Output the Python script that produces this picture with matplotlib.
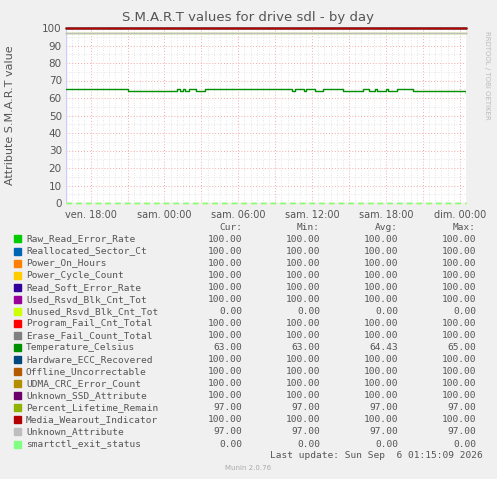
import matplotlib
matplotlib.use("Agg")
import matplotlib.pyplot as plt
import numpy as np

names = ["Raw_Read_Error_Rate","Reallocated_Sector_Ct","Power_On_Hours","Power_Cycle_Count",
         "Read_Soft_Error_Rate","Used_Rsvd_Blk_Cnt_Tot","Unused_Rsvd_Blk_Cnt_Tot","Program_Fail_Cnt_Total",
         "Erase_Fail_Count_Total","Temperature_Celsius","Hardware_ECC_Recovered","Offline_Uncorrectable",
         "UDMA_CRC_Error_Count","Unknown_SSD_Attribute","Percent_Lifetime_Remain","Media_Wearout_Indicator",
         "Unknown_Attribute","smartctl_exit_status"]
colors = ["#00CC00","#0066B3","#FF8000","#FFCC00","#330099","#990099","#CCFF00","#FF0000",
          "#808080","#008F00","#00487D","#B35A00","#B38F00","#6B006B","#8FB300","#B30000",
          "#BEBEBE","#80FF80"]
cur = [100,100,100,100,100,100,0,100,100,63,100,100,100,100,97,100,97,0]
mins = [100,100,100,100,100,100,0,100,100,63,100,100,100,100,97,100,97,0]
avgs = [100,100,100,100,100,100,0,100,100,64.43,100,100,100,100,97,100,97,0]
maxs = [100,100,100,100,100,100,0,100,100,65,100,100,100,100,97,100,97,0]

span_hours = [0, 32.5]
temp_t = [0,5.0,9.0,9.3,9.5,9.7,10.0,10.6,10.9,11.3,18.4,18.6,19.3,19.5,20.2,20.9,22.5,24.1,24.6,25.1,25.3,26.0,26.2,26.9,28.2,32.5]
temp_v = [65,64,65,64,65,64,65,64,64,65,64,65,64,65,64,65,64,65,64,65,64,65,64,65,64,63]
tick_pos = [2, 8, 14, 20, 26, 32]
tick_labels = ["ven. 18:00","sam. 00:00","sam. 06:00","sam. 12:00","sam. 18:00","dim. 00:00"]

W, H = 497, 479
fig = plt.figure(figsize=(W/100, H/100), dpi=100, facecolor="#F0F0F0")
ax = fig.add_axes([66/W, 1-203/H, 400/W, 175/H])
ax.set_facecolor("white")
ax.set_xlim(0, 32.5)
ax.set_ylim(0, 100)
ax.axvline(0, color="#CCCCFF", lw=1, zorder=2)
ax.axhline(0, color="#CCCCFF", lw=1, zorder=2)

for i, n in enumerate(names):
    if n == "Temperature_Celsius":
        ax.step(temp_t, temp_v, where="post", color=colors[i], lw=1, zorder=3)
    elif cur[i] == 0:
        ax.plot(span_hours, [cur[i]]*2, color=colors[i], lw=1, ls=(0,(4,3)), zorder=3+i*0.01, clip_on=False)
    else:
        ax.plot(span_hours, [cur[i]]*2, color=colors[i], lw=1, zorder=3+i*0.01, clip_on=False)

ax.set_xticks([2, 5, 8, 11, 14, 17, 20, 23, 26, 29, 32])
ax.set_xticklabels([])
ax.set_xticks(np.arange(0.5, 32.5, 0.5), minor=True)
for p, l in zip(tick_pos, tick_labels):
    ax.text(p, -4, l, ha="center", va="top", fontsize=7, color="#555555")
ax.set_yticks(np.arange(0, 101, 10))
ax.set_yticks(np.arange(0, 101, 5), minor=True)
ax.grid(which="minor", color="#DDDDDD", ls=(0,(1,2)), lw=0.6)
ax.grid(which="major", color="#F2AAAA", ls=(0,(1,2)), lw=0.7)
ax.tick_params(which="both", length=0, labelsize=7.5, colors="#555555", pad=3)
for s in ax.spines.values():
    s.set_visible(False)

fig.text(0.5, 1-18/H, "S.M.A.R.T values for drive sdl - by day", ha="center", va="center", fontsize=9.5, color="#555555")
fig.text(10/W, 1-115/H, "Attribute S.M.A.R.T value", rotation=90, ha="center", va="center", fontsize=8, color="#555555")
fig.text(487/W, 1-75/H, "RRDTOOL / TOBI OETIKER", rotation=270, ha="center", va="center", fontsize=5, color="#BBBBBB")

mono = "DejaVu Sans Mono"
fs = 6.8
tc = "#555555"
hy = 227
for x, h in [(242, "Cur:"), (320, "Min:"), (398, "Avg:"), (476, "Max:")]:
    fig.text(x/W, 1-hy/H, h, ha="right", va="center", family=mono, fontsize=fs, color=tc)
for i, n in enumerate(names):
    y = 239 + i*12.06
    fig.patches.append(plt.Rectangle((14/W, 1-(y+3.5)/H), 7/W, 7/H, transform=fig.transFigure, color=colors[i]))
    fig.text(26/W, 1-y/H, n, ha="left", va="center", family=mono, fontsize=fs, color=tc)
    for x, v in [(242, cur[i]), (320, mins[i]), (398, avgs[i]), (476, maxs[i])]:
        fig.text(x/W, 1-y/H, f"{v:.2f}", ha="right", va="center", family=mono, fontsize=fs, color=tc)
fig.text(483/W, 1-455/H, "Last update: Sun Sep  6 01:15:09 2026", ha="right", va="center", family=mono, fontsize=fs, color=tc)
fig.text(248/W, 1-468/H, "Munin 2.0.76", ha="center", va="center", fontsize=5, color="#AAAAAA")

fig.savefig("out.png", dpi=100, facecolor=fig.get_facecolor())
